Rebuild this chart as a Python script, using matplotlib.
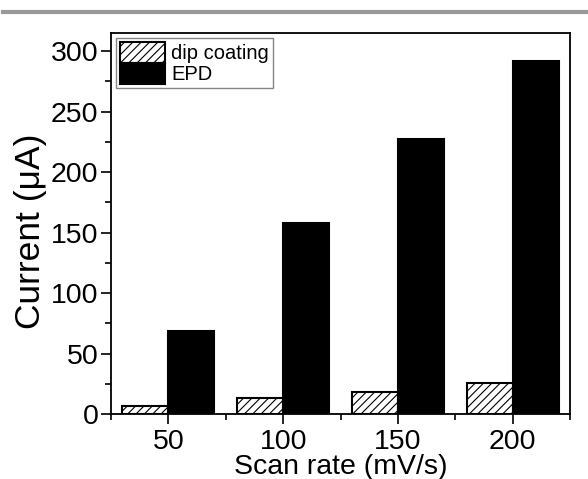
import matplotlib
matplotlib.use('agg')
import matplotlib.pyplot as plt
from matplotlib.lines import Line2D
import numpy as np

# scan rates and peak currents
scan_rates = [50, 100, 150, 200]
dip_coating = [7, 13, 18, 26]
epd = [69, 158, 227, 292]

plt.rcParams['font.family'] = ['Liberation Sans', 'DejaVu Sans']
plt.rcParams['hatch.linewidth'] = 0.8

fig = plt.figure(figsize=(5.88, 4.79), dpi=100)
ax = fig.add_axes([111 / 588, 1 - 414 / 479, 459 / 588, 381 / 479])

x = np.array(scan_rates)
ax.bar(x - 10, dip_coating, width=20, facecolor='white', edgecolor='black',
       hatch='////', linewidth=1.5, label='dip coating')
ax.bar(x + 10, epd, width=20, facecolor='black', edgecolor='black',
       linewidth=1.5, label='EPD')

ax.set_xlim(25, 225)
ax.set_ylim(0, 315)
ax.set_xticks(scan_rates)
ax.set_xticks([25, 75, 125, 175, 225], minor=True)
ax.set_yticks(range(0, 301, 50))
ax.set_yticks(range(25, 301, 50), minor=True)
ax.tick_params(which='major', direction='out', length=7, width=1.2, labelsize=20.5)
ax.tick_params(axis='x', which='major', pad=4)
ax.tick_params(axis='y', which='major', pad=2)
ax.tick_params(which='minor', direction='out', length=4.5, width=1.2)
for s in ax.spines.values():
    s.set_linewidth(1.3)

ax.set_xlabel('Scan rate (mV/s)', fontsize=20.5, labelpad=-1)
ax.set_ylabel('Current (μA)', fontsize=25.5)
ax.yaxis.set_label_coords(-0.14, 0.48)

leg = ax.legend(loc='upper left', fontsize=14.5, frameon=True, fancybox=False,
                handlelength=2.25, handleheight=1.2, labelspacing=0.0,
                handletextpad=0.3, borderpad=0.2, borderaxespad=0.25)
leg.get_frame().set_edgecolor('#666666')
leg.get_frame().set_linewidth(1.0)

# grey rule across the top of the page
fig.add_artist(Line2D([0.005, 1.0], [1 - 12 / 479, 1 - 12 / 479], color='#999999',
                      linewidth=3, transform=fig.transFigure))

fig.savefig('out.png', dpi=100)
